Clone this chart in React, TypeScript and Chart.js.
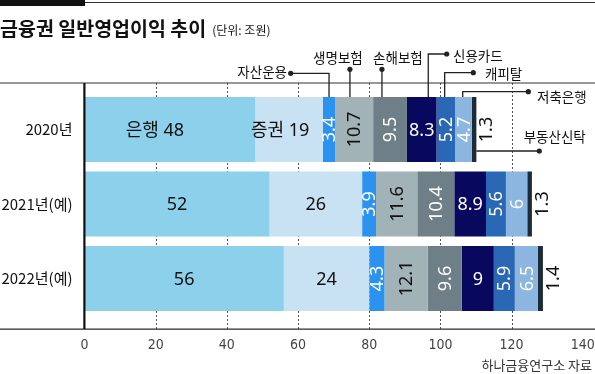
import { useEffect, useRef } from "react";
import { Chart, registerables } from "chart.js";

Chart.register(...registerables);

// ---------- data ----------
const categories = ["2020년", "2021년(예)", "2022년(예)"];
const seriesNames = ["은행", "증권", "자산운용", "생명보험", "손해보험", "신용카드", "캐피탈", "저축은행", "부동산신탁"];
const bank = [48, 52, 56];
const securities = [19, 26, 24];
const assetMgmt = [3.4, 3.9, 4.3];
const lifeIns = [10.7, 11.6, 12.1];
const nonLifeIns = [9.5, 10.4, 9.6];
const creditCard = [8.3, 8.9, 9];
const capital = [5.2, 5.6, 5.9];
const savingsBank = [4.7, 6, 6.5];
const realEstateTrust = [1.3, 1.3, 1.4];
const seriesValues = [bank, securities, assetMgmt, lifeIns, nonLifeIns, creditCard, capital, savingsBank, realEstateTrust];
const xMin = 0;
const xMax = 140;
const xStep = 20;
const titleText = "금융권 일반영업이익 추이";
const unitText = "(단위: 조원)";
const sourceText = "하나금융연구소 자료";

// ---------- style ----------
const colors = ["#8cd0ec", "#c8e2f4", "#2b93ef", "#a2b3b8", "#6f7f87", "#08085f", "#2a67b4", "#8cb5e0", "#1c2b36"];
const labelColors = ["#111", "#111", "#fff", "#111", "#fff", "#fff", "#fff", "#fff", "#111"];
const rotated = [false, false, true, true, true, false, true, true, true];
const KR = "'Noto Sans CJK KR', 'Noto Sans', sans-serif";
const NUM = "'Noto Sans', 'Noto Sans CJK KR', sans-serif";
const TOP_LINE = 83;
const BOTTOM_LINE = 329;
const AXIS_X = 84.5;

const overlay = {
  id: "overlay",
  beforeDatasetsDraw(chart: any) {
    const ctx = chart.ctx;
    const xs = chart.scales.x;
    ctx.save();
    ctx.strokeStyle = "#555";
    ctx.lineWidth = 1;
    ctx.setLineDash([2, 2]);
    for (let v = xMin + xStep; v < xMax; v += xStep) {
      const x = Math.round(xs.getPixelForValue(v)) + 0.5;
      ctx.beginPath();
      ctx.moveTo(x, TOP_LINE);
      ctx.lineTo(x, BOTTOM_LINE);
      ctx.stroke();
    }
    ctx.restore();
  },
  afterDatasetsDraw(chart: any) {
    const ctx = chart.ctx;
    const W = chart.width;
    ctx.save();
    // header bars
    ctx.fillStyle = "#111";
    ctx.fillRect(0, 0, 85, 6);
    ctx.fillStyle = "#333";
    ctx.fillRect(85, 2, W - 85, 1);
    // frame lines
    ctx.fillStyle = "#333";
    ctx.fillRect(0, TOP_LINE - 0.5, W, 1);
    ctx.fillRect(0, BOTTOM_LINE - 0.5, W, 1.3);
    ctx.fillStyle = "#111";
    ctx.fillRect(AXIS_X - 1.2, TOP_LINE, 2.2, BOTTOM_LINE - TOP_LINE);

    // title
    ctx.fillStyle = "#111";
    ctx.textBaseline = "middle";
    ctx.textAlign = "left";
    ctx.font = `bold 19.5px ${KR}`;
    ctx.fillText(titleText, 0, 29);
    const tw = ctx.measureText(titleText).width;
    ctx.font = `12px ${KR}`;
    ctx.fillText(unitText, tw + 6, 30.5);
    // source
    ctx.textAlign = "right";
    ctx.fillStyle = "#333";
    ctx.font = `13px ${KR}`;
    ctx.fillText(sourceText, 592, 365);

    // value labels
    const metas = seriesValues.map((_, i) => chart.getDatasetMeta(i));
    metas.forEach((meta: any, i: number) => {
      meta.data.forEach((el: any, j: number) => {
        const p = el.getProps(["x", "y", "base", "height"], true);
        const v = seriesValues[i][j];
        let txt = String(v);
        if (j === 0 && i < 2) txt = `${seriesNames[i]} ${v}`;
        let cx = (p.x + p.base) / 2;
        const cy = p.y;
        if (i === 8) cx = p.x + 9.5;
        if (j === 0 && i === 0) cx -= 15;
        if (j === 0 && i === 1) cx -= 9;
        ctx.fillStyle = labelColors[i];
        ctx.font = `18px ${NUM}`;
        ctx.textAlign = "center";
        ctx.textBaseline = "middle";
        if (rotated[i]) {
          ctx.save();
          ctx.translate(cx, cy);
          ctx.rotate(-Math.PI / 2);
          ctx.fillText(txt, 0, 1);
          ctx.restore();
        } else {
          ctx.fillText(txt, cx, cy + 1);
        }
      });
    });

    // leader lines + legend names (first row)
    const seg = (i: number, frac: number) => {
      const el = metas[i].data[0].getProps(["x", "y", "base", "height"], true);
      return { x: el.base + (el.x - el.base) * frac, top: el.y - el.height / 2, y: el.y, end: el.x };
    };
    ctx.strokeStyle = "#222";
    ctx.fillStyle = "#222";
    ctx.lineWidth = 1.3;
    const dot = (x: number, y: number) => {
      ctx.beginPath();
      ctx.arc(x, y, 2.6, 0, Math.PI * 2);
      ctx.fill();
    };
    const path = (pts: number[][]) => {
      ctx.beginPath();
      ctx.moveTo(pts[0][0], pts[0][1]);
      for (let k = 1; k < pts.length; k++) ctx.lineTo(pts[k][0], pts[k][1]);
      ctx.stroke();
    };
    const name = (i: number, x: number, y: number, align: CanvasTextAlign) => {
      ctx.save();
      ctx.fillStyle = "#111";
      ctx.font = `13.5px ${KR}`;
      ctx.textAlign = align;
      ctx.textBaseline = "middle";
      ctx.fillText(seriesNames[i], x, y);
      ctx.restore();
    };
    // 자산운용
    let s = seg(2, 0.5);
    path([[s.x, s.top], [s.x, 73.3], [290.7, 73.3]]);
    dot(290.7, 73.3);
    name(2, 287, 72, "right");
    // 생명보험
    s = seg(3, 0.39);
    path([[s.x, s.top], [s.x, 69.3]]);
    dot(s.x, 69.3);
    name(3, s.x - 12, 57.5, "center");
    // 손해보험
    s = seg(4, 0.26);
    path([[s.x, s.top], [s.x, 69.3]]);
    dot(s.x, 69.3);
    name(4, s.x + 16, 57.5, "center");
    // 신용카드
    s = seg(5, 0.72);
    path([[s.x, s.top], [s.x, 54], [446.7, 54]]);
    dot(446.7, 54);
    name(5, 453, 55.5, "left");
    // 캐피탈
    s = seg(6, 0.44);
    path([[s.x, s.top], [s.x, 72.7], [473.3, 72.7]]);
    dot(473.3, 72.7);
    name(6, 485, 73.5, "left");
    // 저축은행
    s = seg(7, 0.46);
    path([[s.x, s.top], [s.x, 91.7], [528.3, 91.7]]);
    dot(528.3, 91.7);
    name(7, 537, 97, "left");
    // 부동산신탁
    s = seg(8, 1);
    path([[s.end, s.y + 21.5], [539.3, s.y + 21.5]]);
    dot(539.3, s.y + 21.5);
    name(8, 554.7, 136.5, "center");
    ctx.restore();
  },
};

export default function App() {
  const ref = useRef<HTMLCanvasElement | null>(null);
  useEffect(() => {
    document.body.style.margin = "0";
    const canvas = ref.current!;
    const chart = new Chart(canvas, {
      type: "bar",
      data: {
        labels: categories,
        datasets: seriesNames.map((n, i) => ({
          label: n,
          data: seriesValues[i],
          backgroundColor: colors[i],
          borderWidth: 0,
          barPercentage: 0.872,
          categoryPercentage: 1,
          stack: "s",
        })),
      },
      options: {
        indexAxis: "y",
        responsive: false,
        animation: false,
        devicePixelRatio: 1,
        layout: { padding: { top: 92.25, right: 0, bottom: 0, left: 0 } },
        plugins: { legend: { display: false }, tooltip: { enabled: false } },
        scales: {
          x: {
            stacked: true,
            min: xMin,
            max: xMax,
            afterFit: (s: any) => { s.height = 374 - 315.75; s.paddingRight = 12.2; },
            ticks: {
              stepSize: xStep,
              padding: 21,
              color: "#444",
              font: { family: "'Liberation Sans Narrow', 'DejaVu Sans Condensed', 'Noto Sans', sans-serif", size: 14 },
              maxRotation: 0,
            },
            grid: { display: false, drawTicks: false },
            border: { display: false },
          },
          y: {
            stacked: true,
            afterFit: (s: any) => { s.width = AXIS_X; },
            ticks: {
              padding: 12,
              color: "#111",
              font: { family: KR, size: 15 },
            },
            grid: { display: false, drawTicks: false },
            border: { display: false },
          },
        },
      },
      plugins: [overlay],
    } as any);
    return () => chart.destroy();
  }, []);
  return (
    <div style={{ width: 595, height: 374 }}>
      <canvas ref={ref} width={595} height={374} style={{ display: "block" }} />
    </div>
  );
}
